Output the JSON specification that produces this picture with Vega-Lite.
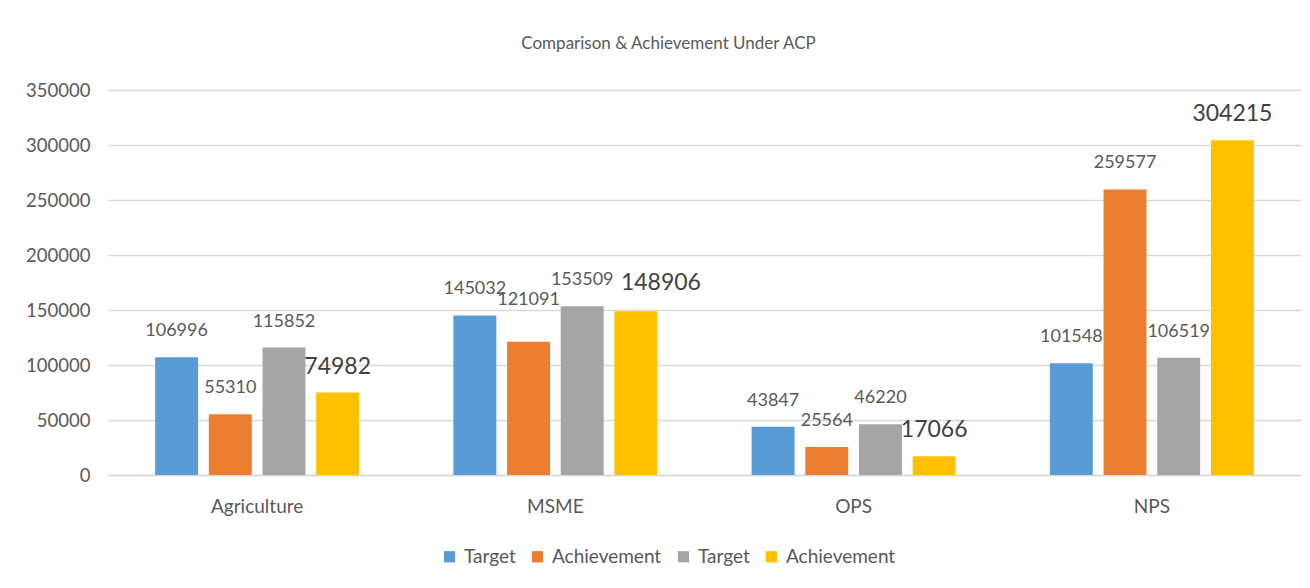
{
  "$schema": "https://vega.github.io/schema/vega-lite/v6.json",
  "autosize": {"type": "none"},
  "width": 1193,
  "height": 385,
  "padding": {"left": 108, "top": 90, "right": 9, "bottom": 113},
  "background": "white",
  "config": {"view": {"stroke": null}, "font": "Lato"},
  "title": {
    "text": "Comparison & Achievement Under ACP",
    "fontSize": 17,
    "fontWeight": "normal",
    "color": "#595959",
    "font": "Lato",
    "anchor": "middle",
    "dx": -36,
    "offset": 28
  },
  "data": {
    "values": [
      {"category": "Agriculture", "series": "Target 1", "value": 106996},
      {"category": "Agriculture", "series": "Achievement 1", "value": 55310},
      {"category": "Agriculture", "series": "Target 2", "value": 115852},
      {"category": "Agriculture", "series": "Achievement 2", "value": 74982},
      {"category": "MSME", "series": "Target 1", "value": 145032},
      {"category": "MSME", "series": "Achievement 1", "value": 121091},
      {"category": "MSME", "series": "Target 2", "value": 153509},
      {"category": "MSME", "series": "Achievement 2", "value": 148906},
      {"category": "OPS", "series": "Target 1", "value": 43847},
      {"category": "OPS", "series": "Achievement 1", "value": 25564},
      {"category": "OPS", "series": "Target 2", "value": 46220},
      {"category": "OPS", "series": "Achievement 2", "value": 17066},
      {"category": "NPS", "series": "Target 1", "value": 101548},
      {"category": "NPS", "series": "Achievement 1", "value": 259577},
      {"category": "NPS", "series": "Target 2", "value": 106519},
      {"category": "NPS", "series": "Achievement 2", "value": 304215}
    ]
  },
  "encoding": {
    "x": {
      "field": "category",
      "type": "nominal",
      "sort": ["Agriculture", "MSME", "OPS", "NPS"],
      "scale": {"paddingInner": 0.28, "paddingOuter": 0.14},
      "axis": {
        "title": null,
        "labelAngle": 0,
        "labelFontSize": 19,
        "labelColor": "#595959",
        "labelPadding": 22,
        "ticks": false,
        "domainColor": "#d9d9d9",
        "domainWidth": 1.5
      }
    },
    "xOffset": {
      "field": "series",
      "type": "nominal",
      "sort": ["Target 1", "Achievement 1", "Target 2", "Achievement 2"],
      "scale": {"paddingInner": 0.2, "paddingOuter": 0.1}
    },
    "y": {
      "field": "value",
      "type": "quantitative",
      "scale": {"domain": [0, 350000]},
      "axis": {
        "title": null,
        "values": [0, 50000, 100000, 150000, 200000, 250000, 300000, 350000],
        "format": "d",
        "labelFontSize": 18.5,
        "labelColor": "#595959",
        "labelPadding": 18,
        "ticks": false,
        "domain": false,
        "gridColor": "#d9d9d9",
        "gridWidth": 1.5
      }
    }
  },
  "layer": [
    {
      "mark": {"type": "bar"},
      "encoding": {
        "color": {
          "field": "series",
          "type": "nominal",
          "sort": ["Target 1", "Achievement 1", "Target 2", "Achievement 2"],
          "scale": {
            "domain": ["Target 1", "Achievement 1", "Target 2", "Achievement 2"],
            "range": ["#5B9BD5", "#ED7D31", "#A5A5A5", "#FFC000"]
          },
          "legend": {
            "title": null,
            "orient": "none",
            "direction": "horizontal",
            "legendX": 332,
            "legendY": 457,
            "symbolType": "square",
            "symbolSize": 125,
            "symbolStrokeWidth": 0,
            "labelFontSize": 19,
            "labelColor": "#595959",
            "labelOffset": 5,
            "columnPadding": 12,
            "labelExpr": "split(datum.label, ' ')[0]"
          }
        }
      }
    },
    {
      "transform": [{"filter": "!(datum.category === 'MSME' && (datum.series === 'Achievement 1' || datum.series === 'Achievement 2'))"}],
      "mark": {"type": "text", "baseline": "middle", "align": "center", "dy": -26, "font": "Lato"},
      "encoding": {
        "text": {"field": "value", "type": "quantitative", "format": "d"},
        "size": {
          "condition": {"test": "datum.series === 'Achievement 2'", "value": 23},
          "value": 18
        },
        "color": {
          "condition": {"test": "datum.series === 'Achievement 2'", "value": "#404040"},
          "value": "#595959"
        }
      }
    },
    {
      "transform": [{"filter": "datum.category === 'MSME' && datum.series === 'Achievement 1'"}],
      "mark": {"type": "text", "baseline": "middle", "align": "center", "dy": -42, "font": "Lato", "fontSize": 18, "color": "#595959"},
      "encoding": {
        "text": {"field": "value", "type": "quantitative", "format": "d"}
      }
    },
    {
      "transform": [{"filter": "datum.category === 'MSME' && datum.series === 'Achievement 2'"}],
      "mark": {"type": "text", "baseline": "middle", "align": "center", "dx": 25, "dy": -28, "font": "Lato", "fontSize": 23, "color": "#404040"},
      "encoding": {
        "text": {"field": "value", "type": "quantitative", "format": "d"}
      }
    }
  ]
}
